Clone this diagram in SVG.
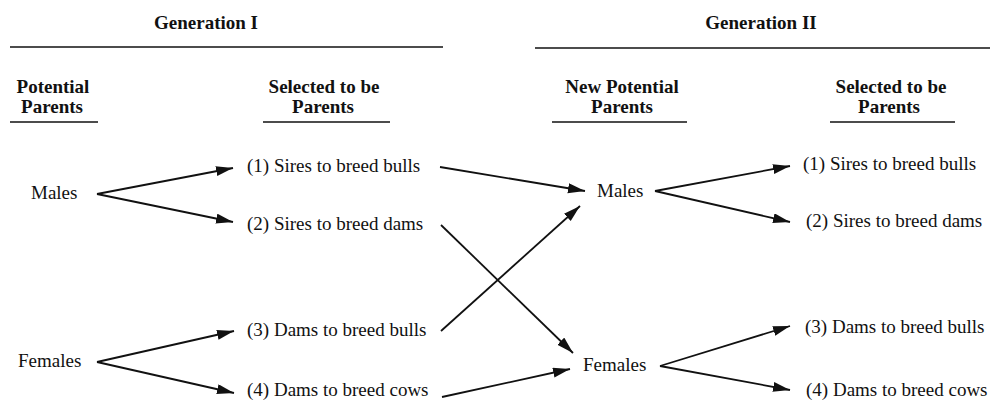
<svg xmlns="http://www.w3.org/2000/svg" width="998" height="400" viewBox="0 0 998 400">
<style>
text{font-family:"Liberation Serif","Times New Roman",serif;font-size:19px;fill:#111}
.h{font-weight:bold;text-anchor:middle}
.rule{stroke:#111;stroke-width:1.6}
.c{stroke:#111;stroke-width:1.8;fill:none;marker-end:url(#ah)}
</style>
<defs>
<marker id="ah" markerUnits="userSpaceOnUse" markerWidth="18" markerHeight="11" refX="17" refY="5" orient="auto">
<path d="M0,0 L17,5 L0,10 Z" fill="#111"/>
</marker>
</defs>
<rect width="998" height="400" fill="#fff"/>
<g id="headers">
<text class="h" x="206" y="29">Generation I</text>
<line class="rule" x1="10" y1="47" x2="443" y2="47"/>
<text class="h" x="761" y="29">Generation II</text>
<line class="rule" x1="535" y1="48" x2="990" y2="48"/>
<text class="h" x="53" y="93">Potential</text>
<text class="h" x="52" y="113">Parents</text>
<line class="rule" x1="10" y1="122" x2="98" y2="122"/>
<text class="h" x="324" y="93">Selected to be</text>
<text class="h" x="323" y="113">Parents</text>
<line class="rule" x1="263" y1="122" x2="390" y2="122"/>
<text class="h" x="622" y="93">New Potential</text>
<text class="h" x="622" y="113">Parents</text>
<line class="rule" x1="552" y1="122" x2="687" y2="122"/>
<text class="h" x="891" y="93">Selected to be</text>
<text class="h" x="889" y="113">Parents</text>
<line class="rule" x1="830" y1="122" x2="955" y2="122"/>
</g>
<g id="males1"><text x="31" y="199">Males</text></g>
<g id="females1"><text x="18" y="367">Females</text></g>
<g id="sel1"><text x="247" y="172">(1) Sires to breed bulls</text></g>
<g id="sel2"><text x="247" y="230">(2) Sires to breed dams</text></g>
<g id="sel3"><text x="247" y="336">(3) Dams to breed bulls</text></g>
<g id="sel4"><text x="247" y="396">(4) Dams to breed cows</text></g>
<g id="males2"><text x="597" y="197">Males</text></g>
<g id="females2"><text x="583" y="371">Females</text></g>
<g id="rsel1"><text x="803" y="170">(1) Sires to breed bulls</text></g>
<g id="rsel2"><text x="806" y="227">(2) Sires to breed dams</text></g>
<g id="rsel3"><text x="805" y="333">(3) Dams to breed bulls</text></g>
<g id="rsel4"><text x="806" y="396">(4) Dams to breed cows</text></g>
<g id="connectors">
<line class="c" x1="97" y1="194" x2="233" y2="168"/>
<line class="c" x1="97" y1="194" x2="233" y2="222"/>
<line class="c" x1="97" y1="362" x2="234" y2="331"/>
<line class="c" x1="97" y1="362" x2="234" y2="393"/>
<line class="c" x1="440" y1="167" x2="585" y2="191"/>
<line class="c" x1="441" y1="225" x2="573" y2="353"/>
<line class="c" x1="441" y1="331" x2="580" y2="206"/>
<line class="c" x1="442" y1="397" x2="570" y2="369"/>
<line class="c" x1="655" y1="191" x2="790" y2="166"/>
<line class="c" x1="655" y1="191" x2="790" y2="222"/>
<line class="c" x1="660" y1="366" x2="790" y2="326"/>
<line class="c" x1="660" y1="366" x2="790" y2="390"/>
</g>
</svg>
